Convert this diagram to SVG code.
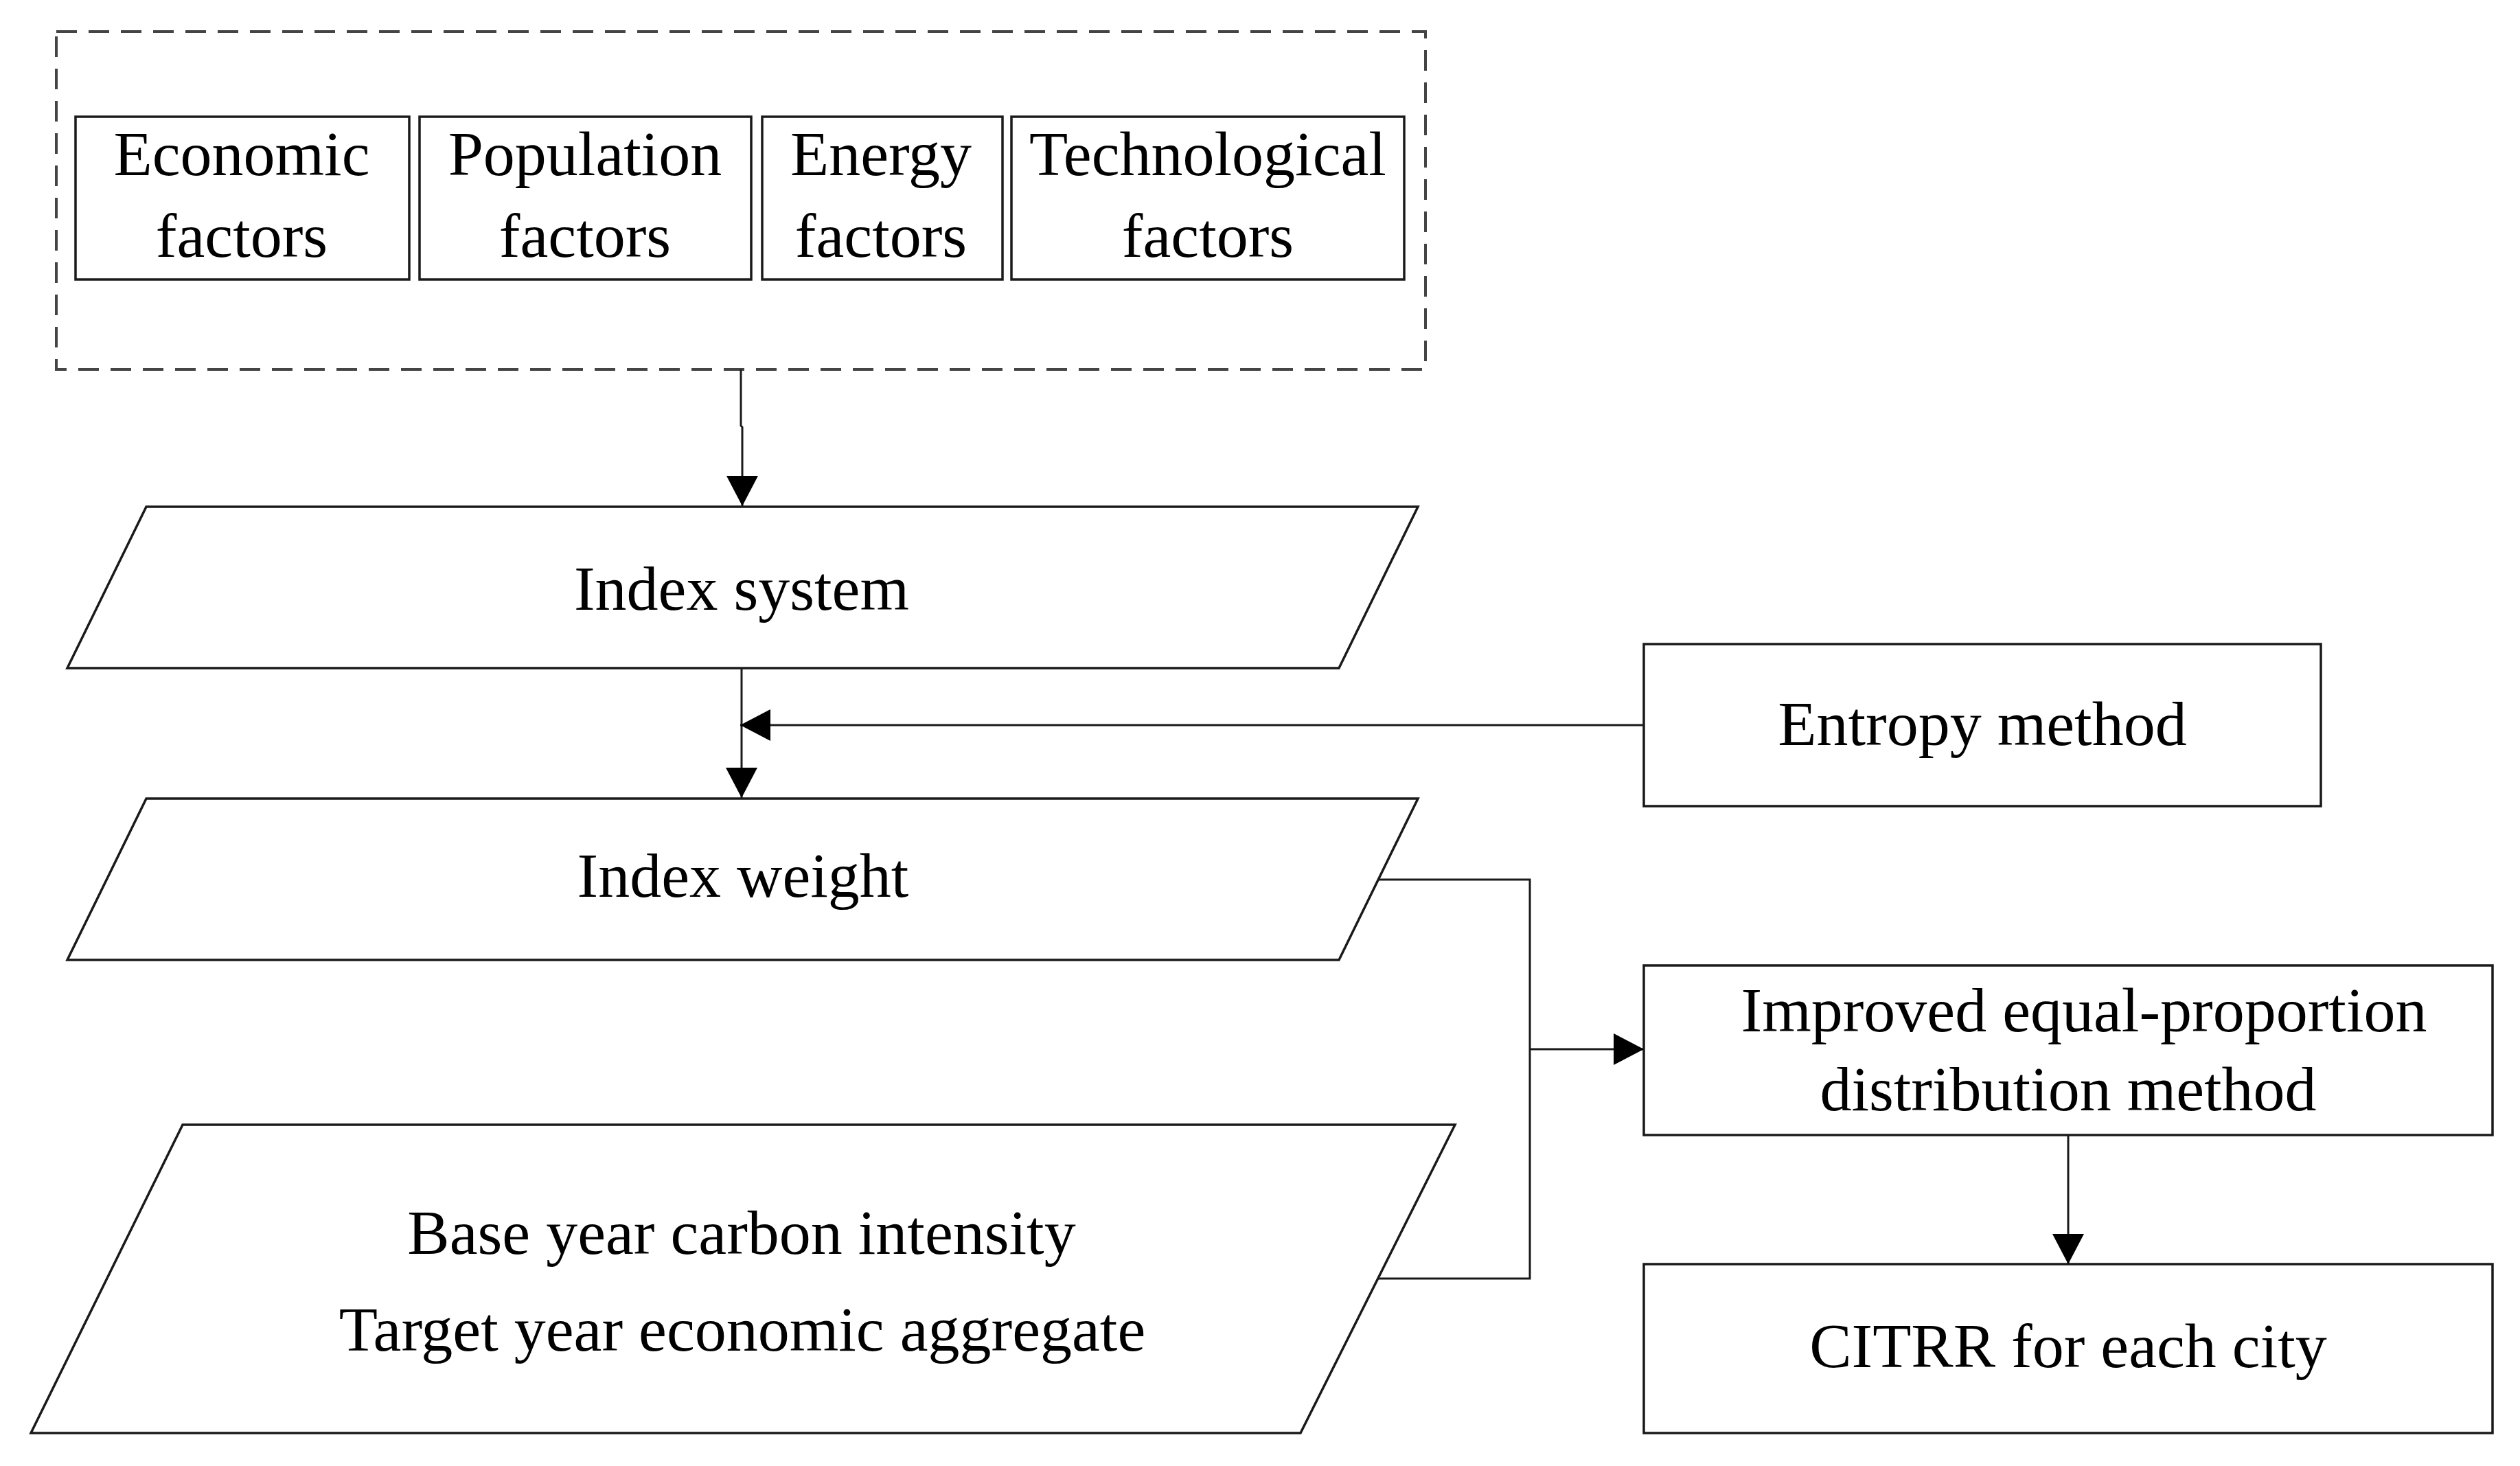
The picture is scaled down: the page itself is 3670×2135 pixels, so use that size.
<svg xmlns="http://www.w3.org/2000/svg" width="3670" height="2135" viewBox="0 0 3670 2135">
<defs>
<style>
.box{fill:#fff;stroke:#1a1a1a;stroke-width:3.5}
.dash{fill:none;stroke:#444;stroke-width:4;stroke-dasharray:30 17}
.conn{fill:none;stroke:#1a1a1a;stroke-width:3}
text{font-family:"Liberation Serif","Times New Roman",serif;font-size:92px;fill:#000;text-anchor:middle}
</style>
<marker id="arr" markerUnits="userSpaceOnUse" markerWidth="44" markerHeight="46" refX="44" refY="23" orient="auto" viewBox="0 0 44 46">
<path d="M0,0 L44,23 L0,46 Z" fill="#000"/>
</marker>
</defs>
<rect width="3670" height="2135" fill="#fff"/>
<g id="factors-group">
<rect class="dash" x="82" y="46" width="1994" height="492"/>
</g>
<g id="economic">
<rect class="box" x="110" y="170" width="486" height="237"/>
<text x="352" y="255">Economic</text>
<text x="352" y="374">factors</text>
</g>
<g id="population">
<rect class="box" x="611" y="170" width="483" height="237"/>
<text x="852" y="255">Population</text>
<text x="852" y="374">factors</text>
</g>
<g id="energy">
<rect class="box" x="1110" y="170" width="350" height="237"/>
<text x="1283" y="255">Energy</text>
<text x="1283" y="374">factors</text>
</g>
<g id="technological">
<rect class="box" x="1473" y="170" width="572" height="237"/>
<text x="1759" y="255">Technological</text>
<text x="1759" y="374">factors</text>
</g>
<g id="index-system">
<polygon class="box" points="213,738 2065,738 1950,973 98,973"/>
<text x="1080" y="888">Index system</text>
</g>
<g id="entropy">
<rect class="box" x="2394" y="938" width="986" height="236"/>
<text x="2887" y="1085">Entropy method</text>
</g>
<g id="index-weight">
<polygon class="box" points="213,1163 2065,1163 1950,1398 98,1398"/>
<text x="1082" y="1306">Index weight</text>
</g>
<g id="base-data">
<polygon class="box" points="266,1638 2119,1638 1894,2087 45,2087"/>
<text x="1080" y="1826">Base year carbon intensity</text>
<text x="1081" y="1967">Target year economic aggregate</text>
</g>
<g id="improved">
<rect class="box" x="2394" y="1406" width="1236" height="247"/>
<text x="3035" y="1502">Improved equal-proportion</text>
<text x="3012" y="1617">distribution method</text>
</g>
<g id="citrr">
<rect class="box" x="2394" y="1841" width="1236" height="246"/>
<text x="3012" y="1991">CITRR for each city</text>
</g>
<g id="connectors">
<path class="conn" d="M1079,538 V620 L1081,622 V737" marker-end="url(#arr)"/>
<path class="conn" d="M1080,973 V1162" marker-end="url(#arr)"/>
<path class="conn" d="M2394,1056 H1078" marker-end="url(#arr)"/>
<path class="conn" d="M2008,1281 H2228 V1862 H2007"/>
<path class="conn" d="M2228,1528 H2394" marker-end="url(#arr)"/>
<path class="conn" d="M3012,1653 V1841" marker-end="url(#arr)"/>
</g>
</svg>
